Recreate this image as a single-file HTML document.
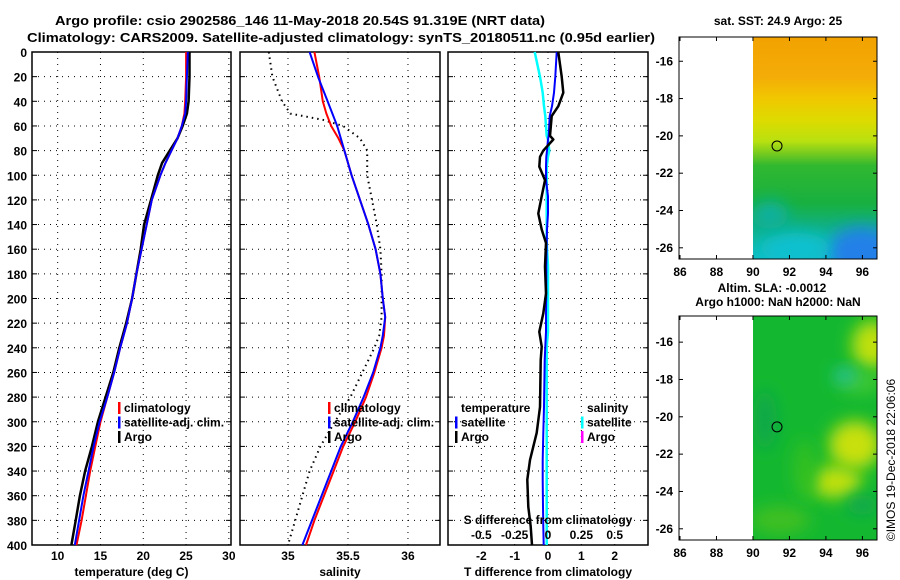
<!DOCTYPE html>
<html><head><meta charset="utf-8"><style>
html,body{margin:0;padding:0;background:#fff;}
svg{display:block;font-family:"Liberation Sans",sans-serif;font-weight:bold;}
</style></head><body>
<svg id="fig" width="900" height="580" viewBox="0 0 900 580" xmlns="http://www.w3.org/2000/svg">
<defs>
<linearGradient id="sstg" x1="0" y1="0" x2="0" y2="1">
<stop offset="0" stop-color="#f2a200"/><stop offset="0.18" stop-color="#f4ac08"/><stop offset="0.28" stop-color="#f0c800"/><stop offset="0.38" stop-color="#dcdc00"/><stop offset="0.47" stop-color="#b8e010"/><stop offset="0.53" stop-color="#70c820"/><stop offset="0.58" stop-color="#30b830"/><stop offset="0.75" stop-color="#18b040"/><stop offset="0.85" stop-color="#10b080"/><stop offset="1" stop-color="#10c0c8"/>
</linearGradient>
<filter id="blur" x="-60%" y="-60%" width="220%" height="220%"><feGaussianBlur stdDeviation="8"/></filter>
<clipPath id="c1"><rect x="753" y="37" width="124" height="222"/></clipPath>
<clipPath id="c2"><rect x="753" y="316" width="124" height="224"/></clipPath>
</defs>
<g id="titles">
<text x="300" y="25" font-size="13" text-anchor="middle" textLength="490" lengthAdjust="spacingAndGlyphs">Argo profile: csio 2902586_146 11-May-2018 20.54S 91.319E (NRT data)</text>
<text x="341" y="42" font-size="13" text-anchor="middle" textLength="628" lengthAdjust="spacingAndGlyphs">Climatology: CARS2009. Satellite-adjusted climatology: synTS_20180511.nc (0.95d earlier)</text>
<text x="778" y="25" font-size="12" text-anchor="middle">sat. SST: 24.9 Argo: 25</text>
<text x="772" y="292" font-size="12" text-anchor="middle">Altim. SLA: -0.0012</text>
<text x="778" y="306" font-size="12" text-anchor="middle">Argo h1000: NaN h2000: NaN</text>
<text transform="translate(895,460) rotate(-90)" font-size="12" font-weight="normal" text-anchor="middle">©IMOS 19-Dec-2018 22:06:06</text>
</g>
<g id="plots"></g>
<g id="maps"></g>
</svg>
<script>
// ---- data ----
const depthT = [0,20,40,50,60,70,80,90,100,120,140,160,180,200,220,240,260,280,300,320,340,360,380,400];
const tempClim = [25.0,25.0,24.9,24.8,24.5,24.0,23.3,22.6,22.0,21.0,20.4,19.8,19.2,18.7,18.1,17.3,16.6,15.8,15.0,14.4,13.8,13.3,12.8,12.2];
const tempSat  = [25.2,25.1,25.0,24.9,24.5,24.0,23.3,22.6,22.0,21.0,20.4,19.8,19.2,18.7,18.1,17.3,16.6,15.8,14.9,14.2,13.6,13.0,12.5,12.0];
const tempArgo = [25.4,25.4,25.3,25.1,24.6,24.0,23.1,22.2,21.7,20.9,20.1,19.7,19.2,18.7,18.0,17.2,16.5,15.6,14.7,14.0,13.2,12.6,12.1,11.6];
const depthS = [0,20,40,50,55,60,70,80,100,120,140,160,180,200,215,230,240,260,280,300,320,340,360,380,400];
const salClim = [35.22,35.26,35.29,35.32,35.34,35.36,35.42,35.47,35.53,35.60,35.67,35.73,35.77,35.79,35.81,35.80,35.78,35.72,35.65,35.56,35.46,35.38,35.30,35.22,35.15];
const salSat  = [35.18,35.25,35.33,35.37,35.39,35.41,35.44,35.47,35.53,35.60,35.67,35.73,35.77,35.79,35.81,35.79,35.77,35.71,35.63,35.54,35.44,35.36,35.28,35.20,35.12];
const salArgo = [34.84,34.87,34.95,35.02,35.29,35.46,35.60,35.66,35.66,35.70,35.74,35.77,35.78,35.78,35.78,35.76,35.72,35.62,35.52,35.39,35.27,35.18,35.12,35.06,35.00];
const depthD = [0,20,33,44,52,68,71,80,85,93,104,117,131,144,155,174,196,212,227,239,250,288,309,331,347,369,385,400];
const dTArgo = [0.31,0.41,0.46,0.31,0.11,0.06,0.16,-0.14,-0.24,-0.26,-0.09,-0.19,-0.29,-0.19,-0.06,-0.09,-0.06,-0.14,-0.26,-0.19,-0.22,-0.24,-0.34,-0.54,-0.62,-0.59,-0.52,-0.48];
const dTSat  = [0.26,0.22,0.18,0.12,0.05,0.02,0.0,-0.03,-0.05,-0.06,-0.06,0.0,0.0,-0.03,-0.04,-0.05,-0.05,-0.06,-0.06,-0.08,-0.1,-0.12,-0.14,-0.16,-0.16,-0.15,-0.14,-0.13];
const dSSat  = [-0.10,-0.06,-0.04,-0.03,-0.02,-0.01,0.0,0.01,0.0,-0.01,-0.01,-0.01,-0.01,-0.01,-0.01,0.0,0.0,0.0,0.0,-0.01,-0.01,-0.01,-0.01,-0.01,-0.01,-0.01,-0.01,-0.01];
const depthTicks = [0,20,40,60,80,100,120,140,160,180,200,220,240,260,280,300,320,340,360,380,400];
const tTicks = [10,15,20,25,30];
const sTicks = [35,35.5,36];
const dTicks = [-2,-1,0,1,2];
const dSTicks = [-0.5,-0.25,0,0.25,0.5];
const lonTicks = [86,88,90,92,94,96];
const latTicks = [-16,-18,-20,-22,-24,-26];
const argoLon = 91.319, argoLat = -20.54;

const NS = "http://www.w3.org/2000/svg";
const plots = document.getElementById('plots');
const maps = document.getElementById('maps');
function mk(tag, attrs, parent){ const e=document.createElementNS(NS,tag); for(const k in attrs) e.setAttribute(k,attrs[k]); (parent||plots).appendChild(e); return e; }
function txt(s, attrs, parent){ const e=mk('text',attrs,parent); e.textContent=s; return e; }

const yTop=52, yBot=545;
const yD = d => yTop + d*(yBot-yTop)/400;
function scaleX(d0,d1,x0,x1){ return v => x0 + (v-d0)*(x1-x0)/(d1-d0); }

const panels = [
 {name:'temperature', x0:32, x1:231, sx:scaleX(7,30.25,32,231), ticks:tTicks, label:'temperature (deg C)'},
 {name:'salinity', x0:240, x1:440, sx:scaleX(34.6,36.267,240,440), ticks:sTicks, label:'salinity'},
 {name:'difference', x0:448, x1:648, sx:scaleX(-3,3,448,648), ticks:dTicks, label:'T difference from climatology'}
];
panels.forEach(p=>{
  const g = mk('g',{});
  
  
  depthTicks.forEach(d=>{
    if(d>0 && d<400){ const l=mk('line',{x1:p.x0,x2:p.x1,y1:yD(d),y2:yD(d),stroke:'#000','stroke-width':1,'stroke-dasharray':'1 5'},g);
        }
    mk('line',{x1:p.x0,x2:p.x0+5,y1:yD(d),y2:yD(d),stroke:'#000'},g);
    mk('line',{x1:p.x1-5,x2:p.x1,y1:yD(d),y2:yD(d),stroke:'#000'},g);
  });
  p.ticks.forEach(t=>{
    const x=p.sx(t);
    const l=mk('line',{x1:x,x2:x,y1:yTop,y2:yBot,stroke:'#000','stroke-dasharray':'1 5'},g);
     
    const tl=txt(String(t),{x:x,y:560,'font-size':12,'text-anchor':'middle'},g);
     
  });
  const fr=mk('rect',{x:p.x0,y:yTop,width:p.x1-p.x0,height:yBot-yTop,fill:'none',stroke:'#000','stroke-width':1.5},g);
   
  const al=txt(p.label,{x:(p.x0+p.x1)/2,y:576,'font-size':12,'text-anchor':'middle'},g);
   
  p.g=g;
});
depthTicks.forEach(d=>{
  const t=txt(String(d),{x:27,y:yD(d)+5,'font-size':12,'text-anchor':'end'});
  
  
});
const sdl=txt('S difference from climatology',{x:548,y:524,'font-size':12,'text-anchor':'middle'});


const sdx = v => panels[2].sx(v*4);
dSTicks.forEach(t=>{
  const e=txt(String(t),{x:sdx(t),y:539,'font-size':12,'text-anchor':'middle'});
  
  
});

function line(xs, ds, sx, color, name, g, dash, w){
  const pts = xs.map((v,i)=>sx(v).toFixed(1)+','+yD(ds[i]).toFixed(1)).join(' ');
  const e = mk('polyline',{points:pts,fill:'none',stroke:color,'stroke-width':w||2,'stroke-dasharray':dash||'none','stroke-linejoin':'round'},g);
  
  
}
const P=panels;
line(tempArgo, depthT, P[0].sx, '#000', 'temp-argo-line', P[0].g, null, 2.5);
line(tempClim, depthT, P[0].sx, '#f00', 'temp-climatology-line', P[0].g);
line(tempSat, depthT, P[0].sx, '#00f', 'temp-satellite-line', P[0].g);
line(salArgo, depthS, P[1].sx, '#000', 'salinity-argo-line', P[1].g, '1.5 4', 2);
line(salClim, depthS, P[1].sx, '#f00', 'salinity-climatology-line', P[1].g);
line(salSat, depthS, P[1].sx, '#00f', 'salinity-satellite-line', P[1].g);
line(dSSat, depthD, sdx, '#00ffff', 'salinity-diff-satellite-line', P[2].g, null, 2.5);
line(dTSat, depthD, P[2].sx, '#00f', 'temp-diff-satellite-line', P[2].g);
line(dTArgo, depthD, P[2].sx, '#000', 'temp-diff-argo-line', P[2].g, null, 2.5);

function legend(x, y, items, name){
  const g=mk('g',{});
  
  
  items.forEach((it,i)=>{
    const yy=y+i*14.5;
    if(it[1]) mk('rect',{x:x,y:yy-10,width:2.5,height:12,fill:it[1]},g);
    const t=txt(it[0],{x:x+6,y:yy,'font-size':12},g);
    
    
  });
}
legend(118,412,[['climatology','#f00'],['satellite-adj. clim.','#00f'],['Argo','#000']],'temperature-legend');
legend(328,412,[['climatology','#f00'],['satellite-adj. clim.','#00f'],['Argo','#000']],'salinity-legend');
legend(455,412,[['temperature',null],['satellite','#00f'],['Argo','#000']],'temp-diff-legend');
legend(581,412,[['salinity',null],['satellite','#00ffff'],['Argo','#ff00ff']],'sal-diff-legend');

// ---- maps ----
function mapFrame(top, bot, latTop, latBot, name, fill){
  const g=mk('g',{},maps);
  
  
  const lx = scaleX(86,96.8,680,877);
  const ly = scaleX(latTop, latBot, top, bot);
  fill(g, lx, ly);
  lonTicks.forEach(t=>{
    mk('line',{x1:lx(t),x2:lx(t),y1:bot,y2:bot-4,stroke:'#000'},g);
    mk('line',{x1:lx(t),x2:lx(t),y1:top,y2:top+4,stroke:'#000'},g);
    const e=txt(String(t),{x:lx(t),y:bot+17,'font-size':12,'text-anchor':'middle'},g);
     
  });
  latTicks.forEach(t=>{
    mk('line',{x1:679,x2:683,y1:ly(t),y2:ly(t),stroke:'#000'},g);
    mk('line',{x1:873,x2:877,y1:ly(t),y2:ly(t),stroke:'#000'},g);
    const e=txt(String(t),{x:673,y:ly(t)+4,'font-size':12,'text-anchor':'end'},g);
     
  });
  mk('rect',{x:679,y:top,width:198,height:bot-top,fill:'none',stroke:'#000','stroke-width':1},g);
  const c=mk('circle',{cx:lx(argoLon),cy:ly(argoLat),r:5,fill:'none',stroke:'#000','stroke-width':1},g);
  
  
}
mapFrame(37,259,-14.7,-26.6,'sst-map',(g,lx,ly)=>{
  const gg=mk('g',{'clip-path':'url(#c1)'},g);
  mk('rect',{x:753,y:37,width:124,height:222,fill:'url(#sstg)'},gg);
  mk('ellipse',{cx:862,cy:252,rx:35,ry:25,fill:'#2080e8',filter:'url(#blur)'},gg);
  mk('ellipse',{cx:795,cy:248,rx:35,ry:15,fill:'#10c0d0',filter:'url(#blur)'},gg);
  mk('ellipse',{cx:770,cy:215,rx:18,ry:14,fill:'#10b0a0',filter:'url(#blur)'},gg);
});
mapFrame(316,540,-14.6,-26.6,'sla-map',(g,lx,ly)=>{
  const gg=mk('g',{'clip-path':'url(#c2)'},g);
  mk('rect',{x:753,y:316,width:124,height:224,fill:'#14b830'},gg);
  const blob=(cx,cy,rx,ry,c)=>mk('ellipse',{cx:cx,cy:cy,rx:rx,ry:ry,fill:c,filter:'url(#blur)'},gg);
  blob(872,345,20,24,'#c0e010');
  blob(855,445,26,24,'#c8e010');
  blob(835,482,26,16,'#c0e010');
  blob(860,382,22,12,'#40c830');
  blob(845,376,12,8,'#20c0a0');
  blob(780,520,30,14,'#40c020');
  blob(805,470,12,30,'#30c020');
  blob(862,505,16,10,'#10a850');
  blob(765,420,12,30,'#10a848');
});
</script>
</body></html>
